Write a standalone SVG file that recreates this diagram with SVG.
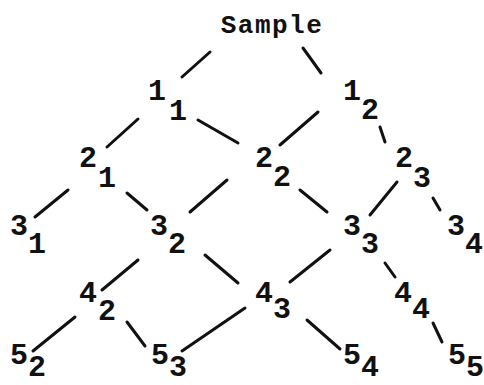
<svg xmlns="http://www.w3.org/2000/svg" width="484" height="385" viewBox="0 0 484 385">
<style>
.bg{fill:#fff}
text{font-family:"Liberation Mono","Courier New",monospace;font-weight:bold;fill:#111;text-anchor:middle}
.d{font-size:30px}
.t{font-size:26px;letter-spacing:1.5px}
.e line{stroke:#111;stroke-width:3;stroke-linecap:round}
</style>
<rect class="bg" width="484" height="385"/>
<g id="connectors" class="e">
<line x1="210" y1="52" x2="182" y2="77"/>
<line x1="303" y1="48" x2="321" y2="73"/>
<line x1="138" y1="119" x2="107" y2="147"/>
<line x1="198" y1="120" x2="238" y2="143"/>
<line x1="318" y1="112" x2="280" y2="145"/>
<line x1="380" y1="127" x2="385" y2="142"/>
<line x1="68" y1="190" x2="35" y2="217"/>
<line x1="127" y1="193" x2="147" y2="210"/>
<line x1="227" y1="180" x2="190" y2="212"/>
<line x1="300" y1="190" x2="327" y2="212"/>
<line x1="397" y1="182" x2="370" y2="215"/>
<line x1="433" y1="198" x2="440" y2="210"/>
<line x1="138" y1="260" x2="102" y2="290"/>
<line x1="205" y1="255" x2="238" y2="283"/>
<line x1="330" y1="250" x2="290" y2="282"/>
<line x1="385" y1="263" x2="395" y2="277"/>
<line x1="75" y1="317" x2="33" y2="351"/>
<line x1="127" y1="322" x2="145" y2="346"/>
<line x1="245" y1="308" x2="182" y2="351"/>
<line x1="307" y1="320" x2="340" y2="349"/>
<line x1="433" y1="323" x2="442" y2="342"/>
</g>
<g id="sample"><text class="t" x="272" y="33">Sample</text></g>
<g id="n1_1"><text class="d" x="157" y="100">1</text><text class="d" x="178" y="120">1</text></g>
<g id="n1_2"><text class="d" x="352" y="100">1</text><text class="d" x="370" y="119">2</text></g>
<g id="n2_1"><text class="d" x="88" y="167">2</text><text class="d" x="107" y="187">1</text></g>
<g id="n2_2"><text class="d" x="264" y="167">2</text><text class="d" x="282" y="186">2</text></g>
<g id="n2_3"><text class="d" x="404" y="167">2</text><text class="d" x="422" y="187">3</text></g>
<g id="n3_1"><text class="d" x="19" y="235">3</text><text class="d" x="37" y="253">1</text></g>
<g id="n3_2"><text class="d" x="159" y="235">3</text><text class="d" x="177" y="253">2</text></g>
<g id="n3_3"><text class="d" x="352" y="235">3</text><text class="d" x="370" y="253">3</text></g>
<g id="n3_4"><text class="d" x="456" y="235">3</text><text class="d" x="474" y="253">4</text></g>
<g id="n4_2"><text class="d" x="88" y="302">4</text><text class="d" x="107" y="320">2</text></g>
<g id="n4_3"><text class="d" x="264" y="302">4</text><text class="d" x="282" y="318">3</text></g>
<g id="n4_4"><text class="d" x="403" y="302">4</text><text class="d" x="421" y="318">4</text></g>
<g id="n5_2"><text class="d" x="19" y="364">5</text><text class="d" x="37" y="376">2</text></g>
<g id="n5_3"><text class="d" x="160" y="364">5</text><text class="d" x="178" y="376">3</text></g>
<g id="n5_4"><text class="d" x="352" y="364">5</text><text class="d" x="370" y="376">4</text></g>
<g id="n5_5"><text class="d" x="457" y="364">5</text><text class="d" x="475" y="376">5</text></g>
</svg>
